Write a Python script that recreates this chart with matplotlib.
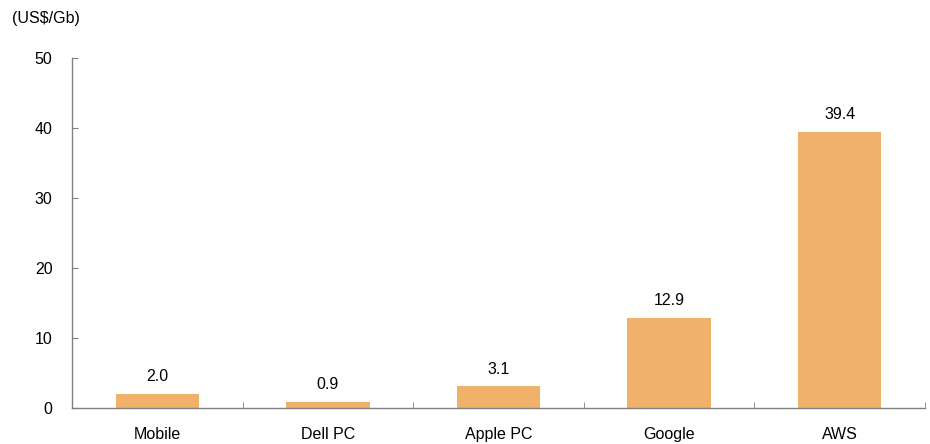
import matplotlib
matplotlib.use("Agg")
import matplotlib.pyplot as plt
import numpy as np

categories = ["Mobile", "Dell PC", "Apple PC", "Google", "AWS"]
values = [2.0, 0.9, 3.1, 12.9, 39.4]
labels = ["2.0", "0.9", "3.1", "12.9", "39.4"]
yticks = [0, 10, 20, 30, 40, 50]

plt.rcParams['font.family'] = ['Liberation Sans', 'DejaVu Sans']

fig = plt.figure(figsize=(9.3, 4.44), dpi=100)
ax = fig.add_axes([72/930, 1-408/444, (925-72)/930, 350/444])

x = np.arange(len(categories))
bars = ax.bar(x, values, width=0.49, color="#F0B26B", zorder=2)
for xi, v, lab in zip(x, values, labels):
    ax.annotate(lab, (xi, v), xytext=(0, 7), textcoords="offset points",
                ha="center", va="bottom", fontsize=11.5, color="#000000")

ax.set_xlim(-0.5, len(categories) - 0.5)
ax.set_ylim(0, 50)
ax.set_yticks(yticks)
ax.set_yticklabels([str(t) for t in yticks], fontsize=11.5)
ax.set_xticks(x)
ax.set_xticklabels(categories, fontsize=11.5)
ax.tick_params(axis="x", length=0, pad=14)
ax.set_xticks(np.arange(len(categories)) + 0.5, minor=True)
ax.tick_params(axis="x", which="minor", direction="in", length=4, color="#808080")
ax.tick_params(axis="y", direction="in", length=4, color="#808080", pad=14)

for s in ["top", "right"]:
    ax.spines[s].set_visible(False)
for s in ["left", "bottom"]:
    ax.spines[s].set_color("#808080")
    ax.spines[s].set_linewidth(1.0)

fig.text(12/930, 1-18/444, "(US$/Gb)", fontsize=11.5, ha="left", va="center")

fig.savefig("out.png", dpi=100)
